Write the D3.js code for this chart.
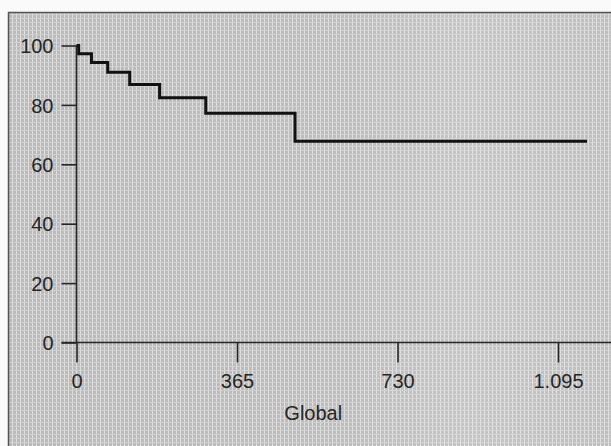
<!DOCTYPE html>
<html>
<head>
<meta charset="utf-8">
<script src="https://cdn.jsdelivr.net/npm/d3@7"></script>
<style>
  body { margin: 0; background: #fafafa; }
  svg { display: block; }
  text { font-family: "Liberation Sans", Arial, sans-serif; fill: #262626; }
</style>
</head>
<body>
<svg id="chart" width="611" height="446"></svg>
<script>
'use strict'

// survival steps (days, percent)
var stepDays = [0, 5, 34, 71, 121, 189, 294, 497, 1161]
var stepPct = [100, 97.2, 94.3, 91.0, 86.9, 82.4, 77.2, 67.8, 67.8]
var xTicks = [0, 365, 730, 1095]
var xTickLabels = ["0", "365", "730", "1.095"]
var yTicks = [0, 20, 40, 60, 80, 100]
var xTitle = "Global"

var svg = d3.select("#chart")

// halftone-ish paper background
var defs = svg.append("defs")
var pat = defs.append("pattern")
  .attr("id", "screen")
  .attr("width", 4).attr("height", 4)
  .attr("patternUnits", "userSpaceOnUse")
pat.append("rect").attr("width", 4).attr("height", 4).attr("fill", "#bababa")
pat.append("rect").attr("x", 0).attr("y", 0).attr("width", 1).attr("height", 4).attr("fill", "#e0e0e0")
pat.append("rect").attr("x", 0).attr("y", 2).attr("width", 4).attr("height", 1).attr("fill", "#d0d0d0")

svg.append("rect")
  .attr("x", 8).attr("y", 12)
  .attr("width", 611).attr("height", 446)
  .attr("fill", "url(#screen)")
// lighter wash on the right side like the scan
var grad = defs.append("linearGradient").attr("id", "wash")
grad.append("stop").attr("offset", "0").attr("stop-color", "#fff").attr("stop-opacity", 0)
grad.append("stop").attr("offset", "0.55").attr("stop-color", "#fff").attr("stop-opacity", 0.04)
grad.append("stop").attr("offset", "0.75").attr("stop-color", "#fff").attr("stop-opacity", 0.15)
grad.append("stop").attr("offset", "1").attr("stop-color", "#fff").attr("stop-opacity", 0.06)
svg.append("rect")
  .attr("x", 8).attr("y", 12)
  .attr("width", 611).attr("height", 446)
  .attr("fill", "url(#wash)")

// frame lines
svg.append("path")
  .attr("d", "M8.5,446 V12.5 H611")
  .attr("fill", "none")
  .attr("stroke", "#555")
  .attr("stroke-width", 1.5)

var x = d3.scaleLinear().domain([0, 365]).range([76.5, 237])
var y = d3.scaleLinear().domain([0, 100]).range([342.5, 45.5])

// y axis
var yAxis = svg.append("g").attr("transform", "translate(" + x(0) + ",0)")
yAxis.call(d3.axisLeft(y).tickValues(yTicks).tickSize(15).tickPadding(8).tickFormat(d3.format("d")))
yAxis.select(".domain").remove()
yAxis.append("line")
  .attr("x1", 0).attr("x2", 0)
  .attr("y1", y(100)).attr("y2", y(0))
yAxis.selectAll("line").attr("stroke", "#262626").attr("stroke-width", 1.6)
yAxis.selectAll("text").style("font-size", "20px").attr("fill", "#262626").attr("dy", "0.36em")

// x axis
var xAxis = svg.append("g").attr("transform", "translate(0," + y(0) + ")")
xAxis.call(d3.axisBottom(x).tickValues(xTicks).tickSize(20).tickPadding(11)
  .tickFormat(function (d, i) { return xTickLabels[i] }))
xAxis.select(".domain").remove()
xAxis.append("line")
  .attr("x1", x(0) - 15).attr("x2", 611)
  .attr("y1", 0).attr("y2", 0)
xAxis.selectAll("line").attr("stroke", "#262626").attr("stroke-width", 1.6)
xAxis.selectAll("text").style("font-size", "20px").attr("fill", "#262626")

svg.append("text")
  .attr("x", (x(365) + x(730)) / 2 - 4)
  .attr("y", 420)
  .attr("text-anchor", "middle")
  .style("font-size", "20px")
  .text(xTitle)

// survival curve
var pts = stepDays.map(function (d, i) { return [d, stepPct[i]] })
var line = d3.line()
  .x(function (d) { return x(d[0]) })
  .y(function (d) { return y(d[1]) })
  .curve(d3.curveStepAfter)

svg.append("path")
  .datum(pts)
  .attr("d", line)
  .attr("fill", "none")
  .attr("stroke", "#111")
  .attr("stroke-width", 3)
</script>
</body>
</html>
